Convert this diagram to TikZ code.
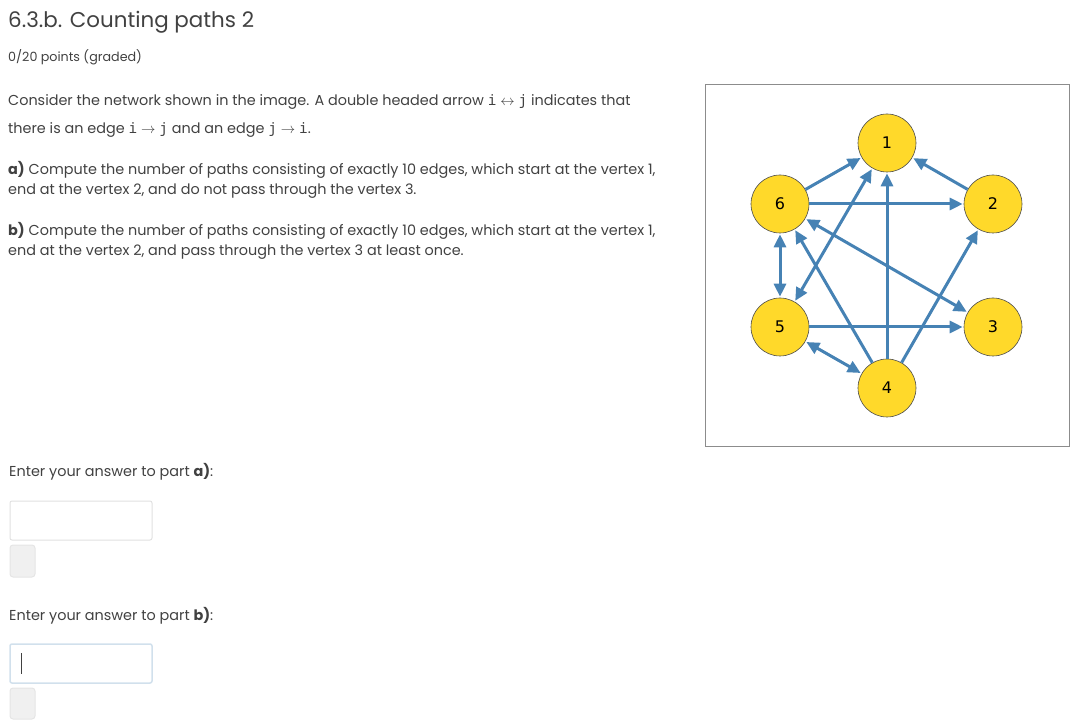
\documentclass[tikz,border=0pt]{standalone}
\usepackage{fontspec}
\setmainfont{Poppins}
\newfontfamily\monof{DejaVu Sans Mono}
\newfontfamily\dvs{DejaVu Sans}
\usetikzlibrary{arrows.meta}
\definecolor{txt}{HTML}{414141}
\definecolor{edgec}{HTML}{4682B4}
\definecolor{gold}{HTML}{FFD92A}
\tikzset{
 t/.style={anchor=base west,inner sep=0pt,text=txt,font=\fontsize{14.4}{16}\selectfont},
 vert/.style={circle,draw=black!70,line width=0.6pt,fill=gold,minimum size=58pt,inner sep=0pt,font=\dvs\fontsize{16}{16}\selectfont},
 e/.style={draw=edgec,line width=3pt,-{Triangle[length=13pt,width=12pt]},shorten >=1pt},
 ee/.style={draw=edgec,line width=3pt,{Triangle[length=13pt,width=12pt]}-{Triangle[length=13pt,width=12pt]},shorten >=1pt,shorten <=1pt},
 box/.style={draw=black!12,line width=1pt,rounded corners=2pt},
 btn/.style={draw=black!10,fill=black!6,line width=1pt,rounded corners=3pt}
}
\begin{document}
\begin{tikzpicture}[x=1pt,y=-1pt]
\useasboundingbox (0,0) rectangle (1088,727);
\node[t,font=\fontsize{21.4}{23}\selectfont] (title) at (8,28) {6.3.b. Counting paths 2};
\node[t,font=\fontsize{12.7}{14}\selectfont] (pts) at (8,62) {0/20 points (graded)};
\node[t] (l1) at (8,106) {Consider the network shown in the image. A double headed arrow {\monof i} $\leftrightarrow$ {\monof j} indicates that};
\node[t] (l2) at (8,134) {there is an edge {\monof i} $\rightarrow$ {\monof j} and an edge {\monof j} $\rightarrow$ {\monof i}.};
\node[t] (a1) at (8,175) {\textbf{a)} Compute the number of paths consisting of exactly 10 edges, which start at the vertex 1,};
\node[t] (a2) at (8,195) {end at the vertex 2, and do not pass through the vertex 3.};
\node[t] (b1) at (8,236) {\textbf{b)} Compute the number of paths consisting of exactly 10 edges, which start at the vertex 1,};
\node[t] (b2) at (8,256) {end at the vertex 2, and pass through the vertex 3 at least once.};
\node[t,font=\fontsize{14.4}{16}\selectfont] (qa) at (9,477) {Enter your answer to part \textbf{a)}:};
\node[t,font=\fontsize{14.4}{16}\selectfont] (qb) at (9,620) {Enter your answer to part \textbf{b)}:};
\draw[box] (10,501) rectangle (152,540);
\draw[btn] (10,545) rectangle (35,577);
\draw[box,draw=edgec!25,line width=1.5pt] (10,644) rectangle (152,683);
\draw[txt,line width=0.8pt] (21,653) -- (21,674);
\draw[btn] (10,688) rectangle (35,719);
\draw[draw=black!45,line width=1pt] (705,85) rectangle (1069,447);
\node[vert] (n1) at (887,143) {1};
\node[vert] (n2) at (993,204) {2};
\node[vert] (n3) at (993,327) {3};
\node[vert] (n4) at (887,388) {4};
\node[vert] (n5) at (780,327) {5};
\node[vert] (n6) at (780,204) {6};
\draw[e] (n6) -- (n1);
\draw[ee] (n1) -- (n5);
\draw[e] (n4) -- (n1);
\draw[e] (n2) -- (n1);
\draw[e] (n6) -- (n2);
\draw[ee] (n6) -- (n3);
\draw[e] (n4) -- (n6);
\draw[ee] (n6) -- (n5);
\draw[e] (n5) -- (n3);
\draw[ee] (n5) -- (n4);
\draw[e] (n4) -- (n2);
\end{tikzpicture}
\end{document}
